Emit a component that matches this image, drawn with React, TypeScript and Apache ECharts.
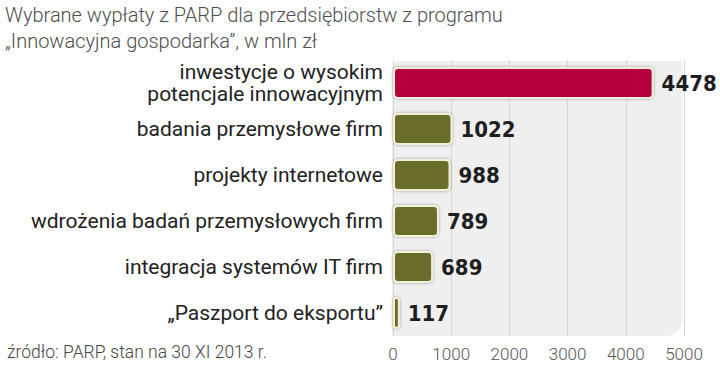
import React, { useEffect, useRef } from "react";
import * as echarts from "echarts";

const categories = [
  "inwestycje o wysokim\npotencjale innowacyjnym",
  "badania przemysłowe firm",
  "projekty internetowe",
  "wdrożenia badań przemysłowych firm",
  "integracja systemów IT firm",
  "„Paszport do eksportu”",
];
const values = [4478, 1022, 988, 789, 689, 117];
const highlightIndex = 0;
const xTicks = [0, 1000, 2000, 3000, 4000, 5000];
const titleLines = [
  "Wybrane wypłaty z PARP dla przedsiębiorstw z programu",
  "„Innowacyjna gospodarka”, w mln zł",
];
const sourceText = "źródło: PARP, stan na 30 XI 2013 r.";

export default function App() {
  const ref = useRef<HTMLDivElement>(null);
  useEffect(() => {
    if (!ref.current) return;
    const chart = echarts.init(ref.current, null, { renderer: "svg" });
    const cats = [...categories].reverse();
    const vals = [...values].reverse();
    const n = values.length;
    chart.setOption({
      animation: false,
      backgroundColor: "#ffffff",
      graphic: [
        {
          type: "rect",
          z: -10,
          shape: { x: 392, y: 61, width: 290, height: 275, r: [8, 0, 16, 0] },
          style: { fill: "#efefef" },
          silent: true,
        },
        {
          type: "text",
          x: 5,
          y: 2,
          style: {
            text: titleLines.join("\n"),
            fontFamily: "Roboto",
            fontWeight: 300,
            fontSize: 20,
            lineHeight: 26,
            fill: "#4d4d4d",
          },
        },
        {
          type: "text",
          x: 7,
          y: 343,
          style: {
            text: sourceText,
            fontFamily: "Roboto",
            fontWeight: 300,
            fontSize: 17.5,
            fill: "#444",
          },
        },
      ],
      grid: { left: 393, right: 36, top: 60, bottom: 33, containLabel: false },
      xAxis: {
        type: "value",
        min: 0,
        max: 5000,
        interval: 1000,
        axisLine: { show: false },
        axisTick: { show: false },
        splitLine: { show: true, lineStyle: { color: "#d6d6d6", width: 1 } },
        axisLabel: {
          color: "#555",
          fontFamily: "Roboto",
          fontWeight: 300,
          fontSize: 17,
          margin: 9,
          formatter: (v: number) => (xTicks.includes(v) ? String(v) : ""),
        },
      },
      yAxis: {
        type: "category",
        data: cats,
        axisLine: { show: false },
        axisTick: { show: false },
        axisLabel: {
          color: "#222",
          fontFamily: "Roboto",
          fontSize: 21,
          lineHeight: 22,
          margin: 10,
          align: "right",
        },
      },
      series: [
        {
          type: "bar",
          data: vals.map((v, i) => ({
            value: v,
            itemStyle: {
              color: n - 1 - i === highlightIndex ? "#b4003a" : "#6a6c2a",
            },
          })),
          barWidth: 32,
          itemStyle: {
            borderColor: "#f3f0d8",
            borderWidth: 2,
            borderRadius: 4,
            shadowBlur: 3,
            shadowColor: "rgba(0,0,0,0.35)",
          },
          label: {
            show: true,
            position: "right",
            distance: 8,
            color: "#1e1e1e",
            fontFamily: "DejaVu Sans Condensed",
            fontWeight: "bold",
            fontSize: 22,
          },
        },
      ],
    });
    return () => chart.dispose();
  }, []);
  return (
    <div
      ref={ref}
      style={{ position: "absolute", left: 0, top: 0, width: 720, height: 369 }}
    />
  );
}
